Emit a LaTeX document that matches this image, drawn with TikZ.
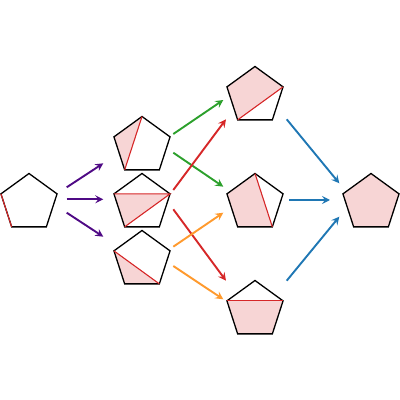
\documentclass[tikz,border=0pt]{standalone}
\usetikzlibrary{shapes.geometric,arrows.meta,backgrounds}
\definecolor{cpurple}{HTML}{4F0A85}
\definecolor{cgreen}{HTML}{2CA02C}
\definecolor{cred}{HTML}{D62728}
\definecolor{corange}{HTML}{FF9A2E}
\definecolor{cblue}{HTML}{1F77B4}
\definecolor{cpink}{HTML}{F7D5D5}
\tikzset{
  pent/.style={regular polygon, regular polygon sides=5, minimum size=59pt,
    inner sep=0pt, outer sep=0pt, draw=black, line width=1.3pt},
  shade/.style={fill=cpink},
  diag/.style={draw=cred, line width=1.1pt},
  arr/.style={line width=1.9pt, -{Stealth[length=8pt,width=8pt,inset=3pt]}},
}
\begin{document}
\begin{tikzpicture}[x=1pt,y=1pt]
\useasboundingbox (0,0) rectangle (400,400);
% pentagons (image y -> 400-y)
\node[pent] (L) at (29,197) {};
\node[pent] (A) at (142,254) {};
\node[pent] (B) at (142,197) {};
\node[pent] (C) at (142,140) {};
\node[pent] (D) at (255,304) {};
\node[pent] (E) at (255,197) {};
\node[pent] (F) at (255,90) {};
\node[pent] (G) at (371,197) {};
% fills
\begin{scope}[on background layer]
  \fill[shade] (A.corner 1) -- (A.corner 2) -- (A.corner 3) -- cycle;
  \fill[shade] (B.corner 2) -- (B.corner 5) -- (B.corner 3) -- cycle;
  \fill[shade] (C.corner 2) -- (C.corner 3) -- (C.corner 4) -- cycle;
  \fill[shade] (D.corner 1) -- (D.corner 2) -- (D.corner 3) -- (D.corner 5) -- cycle;
  \fill[shade] (E.corner 1) -- (E.corner 2) -- (E.corner 3) -- (E.corner 4) -- cycle;
  \fill[shade] (F.corner 2) -- (F.corner 3) -- (F.corner 4) -- (F.corner 5) -- cycle;
  \fill[shade] (G.corner 1) -- (G.corner 2) -- (G.corner 3) -- (G.corner 4) -- (G.corner 5) -- cycle;
\end{scope}
% red diagonals / edges
\draw[diag] (L.corner 2) -- (L.corner 3);
\draw[diag] (A.corner 1) -- (A.corner 3);
\draw[diag] (B.corner 2) -- (B.corner 5) -- (B.corner 3);
\draw[diag] (C.corner 2) -- (C.corner 4);
\draw[diag] (D.corner 5) -- (D.corner 3);
\draw[diag] (E.corner 1) -- (E.corner 4);
\draw[diag] (F.corner 2) -- (F.corner 5);
% arrows
\draw[arr, cpurple] ([shift={(37.7,15.7)}]L.center) -- ([shift={(-38.7,-17.3)}]A.center);
\draw[arr, cpurple] ([shift={(37.7,3.7)}]L.center) -- ([shift={(-38.7,3.7)}]B.center);
\draw[arr, cpurple] ([shift={(37.7,-9.7)}]L.center) -- ([shift={(-38.7,23.3)}]C.center);
\draw[arr, cgreen] ([shift={(31.3,12)}]A.center) -- ([shift={(-31.7,-4)}]D.center);
\draw[arr, cgreen] ([shift={(31.3,-6.7)}]A.center) -- ([shift={(-31.7,16.3)}]E.center);
\draw[arr, cred] ([shift={(31.3,13)}]B.center) -- ([shift={(-29,-23.3)}]D.center);
\draw[arr, cred] ([shift={(31.3,-6.3)}]B.center) -- ([shift={(-29,29.3)}]F.center);
\draw[arr, corange] ([shift={(31.3,13.3)}]C.center) -- ([shift={(-31.7,-9.7)}]E.center);
\draw[arr, corange] ([shift={(31.3,-6)}]C.center) -- ([shift={(-31.7,10.7)}]F.center);
\draw[arr, cblue] ([shift={(31.7,-23.3)}]D.center) -- ([shift={(-31.7,19.7)}]G.center);
\draw[arr, cblue] ([shift={(34.3,3)}]E.center) -- ([shift={(-41,3)}]G.center);
\draw[arr, cblue] ([shift={(31.7,29.3)}]F.center) -- ([shift={(-31.7,-13.7)}]G.center);
\end{tikzpicture}
\end{document}
